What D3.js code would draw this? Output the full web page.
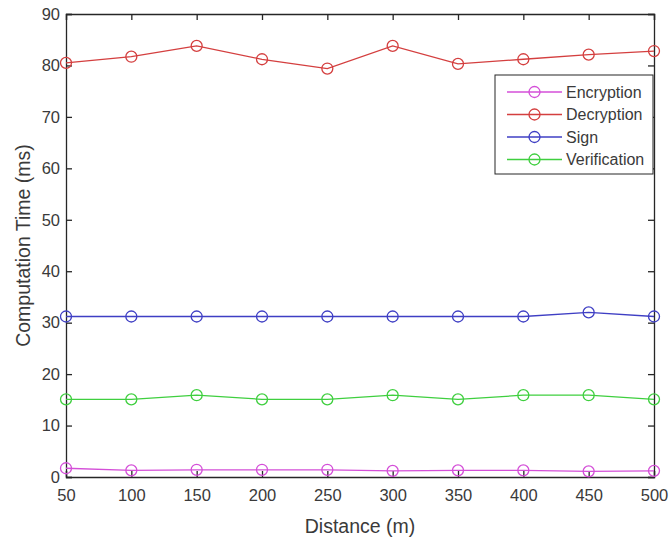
<!DOCTYPE html>
<html>
<head>
<meta charset="utf-8">
<script src="https://cdn.jsdelivr.net/npm/d3@7"></script>
<style>
  body { margin: 0; background: #fff; }
  text { font-family: "Liberation Sans", Arial, sans-serif; }
</style>
</head>
<body>
<div id="viz"></div>
<script>
var width = 669;
var height = 538;

// data
var distances = [50, 100, 150, 200, 250, 300, 350, 400, 450, 500];
var encryption = [1.7, 1.3, 1.4, 1.4, 1.4, 1.2, 1.3, 1.3, 1.1, 1.2];
var decryption = [80.5, 81.7, 83.8, 81.2, 79.4, 83.8, 80.3, 81.2, 82.1, 82.8];
var sign = [31.2, 31.2, 31.2, 31.2, 31.2, 31.2, 31.2, 31.2, 32, 31.2];
var verification = [15.1, 15.1, 15.9, 15.1, 15.1, 15.9, 15.1, 15.9, 15.9, 15.1];

var seriesNames = ["Encryption", "Decryption", "Sign", "Verification"];
var seriesColors = ["#d44fd8", "#d43f3f", "#3f3fc4", "#3fcf3f"];
var xTicks = [50, 100, 150, 200, 250, 300, 350, 400, 450, 500];
var yTicks = [0, 10, 20, 30, 40, 50, 60, 70, 80, 90];

var series = [encryption, decryption, sign, verification].map(function(vals, i) {
  return { name: seriesNames[i], color: seriesColors[i], values: vals };
});

var margin = { left: 66, right: 15, top: 14, bottom: 61 };

var svg = d3.select("#viz")
  .append("svg")
  .attr("width", width)
  .attr("height", height);

var x = d3.scaleLinear()
  .domain([50, 500])
  .range([margin.left, width - margin.right]);

var y = d3.scaleLinear()
  .domain([0, 90])
  .range([height - margin.bottom, margin.top]);

var axisColor = "#262626";
var labelColor = "#3a3a3a";
var tickLen = 6;

// bottom and top axes
var xAxis = svg.append("g")
  .attr("transform", "translate(0," + y(0) + ")")
  .call(d3.axisBottom(x).tickValues(xTicks).tickSize(-tickLen).tickPadding(9));
var xTop = svg.append("g")
  .attr("transform", "translate(0," + y(90) + ")")
  .call(d3.axisTop(x).tickValues(xTicks).tickSize(-tickLen).tickFormat(""));

// left and right axes
var yAxis = svg.append("g")
  .attr("transform", "translate(" + x(50) + ",0)")
  .call(d3.axisLeft(y).tickValues(yTicks).tickSize(-tickLen).tickPadding(6));
var yRight = svg.append("g")
  .attr("transform", "translate(" + x(500) + ",0)")
  .call(d3.axisRight(y).tickValues(yTicks).tickSize(-tickLen).tickFormat(""));

[xAxis, xTop, yAxis, yRight].forEach(function(g) {
  g.select(".domain").attr("stroke", axisColor).attr("stroke-width", 1.3);
  g.selectAll(".tick line").attr("stroke", axisColor).attr("stroke-width", 1.3);
  g.selectAll(".tick text")
    .attr("fill", labelColor)
    .style("font-size", "16.5px");
});
xAxis.selectAll(".tick text").attr("dy", "0.9em");

// lines
var line = d3.line()
  .x(function(d, i) { return x(distances[i]); })
  .y(function(d) { return y(d); });

series.forEach(function(s) {
  svg.append("path")
    .datum(s.values)
    .attr("d", line)
    .attr("fill", "none")
    .attr("stroke", s.color)
    .attr("stroke-width", 1.3);

  svg.selectAll(null)
    .data(s.values)
    .enter()
    .append("circle")
    .attr("cx", function(d, i) { return x(distances[i]); })
    .attr("cy", function(d) { return y(d); })
    .attr("r", 5.5)
    .attr("fill", "none")
    .attr("stroke", s.color)
    .attr("stroke-width", 1.3);
});

// axis labels
svg.append("text")
  .attr("x", (x(50) + x(500)) / 2)
  .attr("y", 533)
  .attr("text-anchor", "middle")
  .attr("fill", labelColor)
  .style("font-size", "19.5px")
  .text("Distance (m)");

svg.append("text")
  .attr("transform", "translate(30," + (y(0) + y(90)) / 2 + ") rotate(-90)")
  .attr("text-anchor", "middle")
  .attr("fill", labelColor)
  .style("font-size", "19.5px")
  .text("Computation Time (ms)");

// legend
var legend = svg.append("g").attr("transform", "translate(495,75)");
legend.append("rect")
  .attr("width", 158)
  .attr("height", 99)
  .attr("fill", "#fff")
  .attr("stroke", axisColor)
  .attr("stroke-width", 1);

var legendItem = legend.selectAll(".legenditem")
  .data(series)
  .enter()
  .append("g")
  .attr("class", "legenditem")
  .attr("transform", function(d, i) { return "translate(0," + (17 + i * 22.5) + ")"; });

legendItem.append("line")
  .attr("x1", 12).attr("x2", 67)
  .attr("stroke", function(d) { return d.color; })
  .attr("stroke-width", 1.3);
legendItem.append("circle")
  .attr("cx", 39.5)
  .attr("r", 5.5)
  .attr("fill", "none")
  .attr("stroke", function(d) { return d.color; })
  .attr("stroke-width", 1.3);
legendItem.append("text")
  .attr("x", 71)
  .attr("dy", "0.35em")
  .attr("fill", labelColor)
  .style("font-size", "16px")
  .text(function(d) { return d.name; });
</script>
</body>
</html>
